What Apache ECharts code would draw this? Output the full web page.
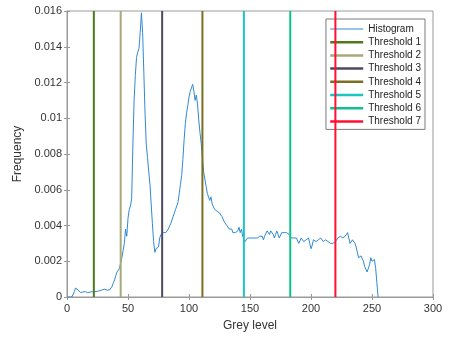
<!DOCTYPE html>
<html>
<head>
<meta charset="utf-8">
<script src="https://cdn.jsdelivr.net/npm/echarts@6/dist/echarts.min.js"></script>
<style>
  html, body { margin: 0; padding: 0; background: #fff; }
  #chart { width: 459px; height: 337px; }
</style>
</head>
<body>
<div id="chart"></div>
<script>
// Normalised grey-level histogram, one value per grey level 0..255
const histogram = [
  0, 0, 0, 0, 0, 0.0001, 0.0003, 0.0005, 0.00055, 0.0004,
  0.0003, 0.00025, 0.0003, 0.00028, 0.00022, 0.0003, 0.00026, 0.00024, 0.0003, 0.00028,
  0.00025, 0.0003, 0.00027, 0.0003, 0.00034, 0.00032, 0.00038, 0.00036, 0.00042, 0.0004,
  0.00036, 0.00044, 0.00042, 0.00038, 0.00045, 0.0004, 0.00048, 0.0006, 0.0008, 0.00095,
  0.0012, 0.0014, 0.0015, 0.0016, 0.0019, 0.0022, 0.0026, 0.003, 0.0038, 0.0034,
  0.0044, 0.0049, 0.0051, 0.0055, 0.0085, 0.011, 0.0124, 0.0134, 0.0137, 0.0139,
  0.0148, 0.0159, 0.0148, 0.0125, 0.0102, 0.0085, 0.0078, 0.007, 0.0063, 0.0052,
  0.0041, 0.0031, 0.0025, 0.0027, 0.0026, 0.0028, 0.0033, 0.0035, 0.0034, 0.0036,
  0.0035, 0.0036, 0.0035, 0.0038, 0.0039, 0.0041, 0.004, 0.0045, 0.0046, 0.0049,
  0.0051, 0.0053, 0.0058, 0.0063, 0.0068, 0.0077, 0.0088, 0.0097, 0.0103, 0.0107,
  0.0112, 0.0115, 0.0117, 0.0119, 0.0115, 0.011, 0.0113, 0.0108, 0.0099, 0.0092,
  0.0086, 0.0078, 0.007, 0.0066, 0.0062, 0.0058, 0.0057, 0.0054, 0.0056, 0.0052,
  0.0051, 0.0049, 0.005, 0.0048, 0.0049, 0.0047, 0.0046, 0.0045, 0.0044, 0.0042,
  0.0041, 0.004, 0.0039, 0.0038, 0.0037, 0.0038, 0.0036, 0.0035, 0.0036, 0.0035,
  0.0037, 0.0039, 0.0036, 0.0038, 0.0034, 0.0033, 0.0031, 0.003, 0.0033, 0.0032,
  0.0033, 0.0032, 0.0033, 0.0032, 0.0033, 0.0034, 0.0033, 0.0033, 0.0034, 0.0035,
  0.0034, 0.0032, 0.0034, 0.0035, 0.0037, 0.0036, 0.0035, 0.0037, 0.0038, 0.0035,
  0.0033, 0.0035, 0.0037, 0.0035, 0.0033, 0.0034, 0.0036, 0.0035, 0.0036, 0.0037,
  0.0036, 0.0035, 0.0035, 0.0034, 0.0033, 0.0032, 0.0033, 0.0034, 0.0033, 0.0032,
  0.003, 0.0031, 0.0033, 0.0032, 0.0031, 0.0031, 0.0032, 0.0033, 0.0033, 0.003,
  0.0027, 0.0029, 0.0032, 0.0032, 0.0031, 0.0031, 0.0032, 0.0033, 0.0033, 0.0032,
  0.0031, 0.0031, 0.0032, 0.0032, 0.0031, 0.0031, 0.003, 0.0031, 0.003, 0.0031,
  0.0031, 0.0032, 0.0033, 0.0032, 0.0034, 0.0034, 0.0033, 0.0033, 0.0034, 0.0035,
  0.0036, 0.0033, 0.003, 0.0031, 0.0032, 0.0032, 0.003, 0.0028, 0.0025, 0.0022,
  0.0023, 0.0023, 0.0023, 0.002, 0.0017, 0.0016, 0.0014, 0.0014, 0.0018, 0.0022,
  0.002, 0.0021, 0.0021, 0.0016, 0.0008, 0
];

// Threshold grey levels, their legend names and line colours
const thresholds = [22, 44, 78, 111, 145, 183, 220];
const thresholdNames = ['Threshold 1', 'Threshold 2', 'Threshold 3', 'Threshold 4',
  'Threshold 5', 'Threshold 6', 'Threshold 7'];
const thresholdColors = ['#4e7a1c', '#a9a97a', '#4e4860', '#7d6e22', '#1cc4c4', '#10c08c', '#ff1030'];

// Axis ranges and ticks
const xMin = 0, xMax = 300, xStep = 50;
const yMin = 0, yMax = 0.016, yStep = 0.002;

const axisGrey = '#9a9a9a';
const labelColor = '#333333';
const font = 'Liberation Sans, Arial, sans-serif';

const histSeries = {
  name: 'Histogram',
  type: 'line',
  data: histogram.map((v, i) => [i, v]),
  showSymbol: false,
  symbol: 'none',
  lineStyle: { color: '#3189d2', width: 1 },
  itemStyle: { color: '#3189d2' },
  z: 3
};

const thrSeries = thresholds.map((t, k) => ({
  name: thresholdNames[k],
  type: 'line',
  data: [[t, yMin], [t, yMax]],
  showSymbol: false,
  symbol: 'none',
  lineStyle: { color: thresholdColors[k], width: 2 },
  itemStyle: { color: thresholdColors[k] },
  z: 4
}));

// Legend keys are plain line samples, so each key's marker is hidden
const legendData = [{ name: 'Histogram', lineStyle: { width: 1 } }].concat(
  thresholdNames.map(n => ({ name: n, lineStyle: { width: 2.5 } }))
);

const chart = echarts.init(document.getElementById('chart'), null, { renderer: 'canvas' });
chart.setOption({
  animation: false,
  backgroundColor: '#ffffff',
  textStyle: { fontFamily: font },
  grid: {
    left: 67, right: 26, top: 11, bottom: 38,
    show: true, borderColor: axisGrey, borderWidth: 1
  },
  legend: {
    orient: 'vertical',
    right: 34, top: 19,
    backgroundColor: '#ffffff',
    borderColor: '#7a7a7a',
    borderWidth: 1,
    borderRadius: 0,
    padding: [5, 4, 3, 3],
    itemWidth: 33,
    itemHeight: 3,
    itemGap: 3.2,
    itemStyle: { color: 'transparent', borderWidth: 0, opacity: 0 },
    textStyle: { fontSize: 10, color: '#222', fontFamily: font },
    data: legendData
  },
  xAxis: [{
    type: 'value', min: xMin, max: xMax, interval: xStep,
    name: 'Grey level', nameLocation: 'middle', nameGap: 23,
    nameTextStyle: { fontSize: 12, color: labelColor, fontFamily: font },
    axisLine: { show: true, lineStyle: { color: axisGrey } },
    axisTick: { show: true, inside: true, length: 3, lineStyle: { color: axisGrey } },
    axisLabel: { fontSize: 11, color: labelColor, margin: 6 },
    splitLine: { show: false }
  }, {
    type: 'value', min: xMin, max: xMax, interval: xStep, position: 'top',
    axisLine: { show: true, lineStyle: { color: axisGrey } },
    axisTick: { show: true, inside: true, length: 3, lineStyle: { color: axisGrey } },
    axisLabel: { show: false },
    splitLine: { show: false }
  }],
  yAxis: [{
    type: 'value', min: yMin, max: yMax, interval: yStep,
    name: 'Frequency', nameLocation: 'middle', nameGap: 34,
    nameTextStyle: { fontSize: 12, color: labelColor, fontFamily: font },
    axisLine: { show: true, lineStyle: { color: axisGrey } },
    axisTick: { show: true, inside: true, length: 3, lineStyle: { color: axisGrey } },
    axisLabel: { fontSize: 11, color: labelColor, margin: 5 },
    splitLine: { show: false }
  }, {
    type: 'value', min: yMin, max: yMax, interval: yStep, position: 'right',
    axisLine: { show: true, lineStyle: { color: axisGrey } },
    axisTick: { show: true, inside: true, length: 3, lineStyle: { color: axisGrey } },
    axisLabel: { show: false },
    splitLine: { show: false }
  }],
  series: [histSeries].concat(thrSeries)
});
</script>
</body>
</html>
